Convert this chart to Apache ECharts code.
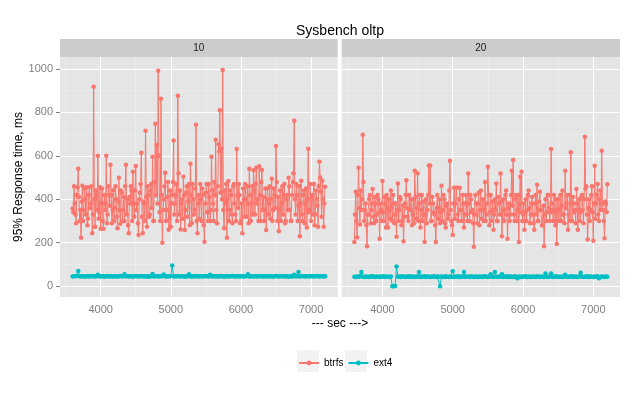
<!DOCTYPE html>
<html>
<head>
<meta charset="utf-8">
<script src="https://cdn.jsdelivr.net/npm/echarts@6/dist/echarts.min.js"></script>
<style>
	html, body { margin: 0; padding: 0; background: #fff; }
	#chart { width: 640px; height: 398px; }
</style>
</head>
<body>
<div id="chart"></div>
<script>
// btrfs is read every 10 sec, ext4 every 20 sec, both from 3600 to 7200
var tStart = 3600;
var btrfsStep = 10;
var ext4Step = 20;

var panels = ['10', '20'];
var seriesNames = ['btrfs', 'ext4'];
var xTicks = [4000, 5000, 6000, 7000];
var xMinor = [3500, 4500, 5500, 6500];
var yTicks = [0, 200, 400, 600, 800, 1000];
var yMinor = [100, 300, 500, 700, 900];

// panel "10"
var btrfs10 = [358,340,460,380,330,290,420,455,541,410,300,350,223,390,462,300,350,450,400,330,
	455,280,310,420,455,360,380,460,243,330,918,400,273,440,420,350,600,310,340,455,
	264,380,450,300,264,420,380,350,600,290,330,460,420,370,559,420,290,350,442,300,
	360,460,400,320,267,390,499,350,287,440,430,300,350,410,300,460,559,330,400,280,
	243,410,380,460,440,300,527,380,320,440,553,350,380,290,236,400,430,470,614,320,
	243,390,380,300,716,410,273,460,420,320,330,440,470,360,596,300,300,480,748,420,
	650,380,992,600,340,300,863,420,200,350,400,460,522,300,350,410,480,260,310,440,
	273,380,420,480,670,330,380,420,470,300,877,520,330,440,261,380,400,310,504,420,
	258,350,430,460,320,390,470,280,564,420,290,470,400,330,350,450,743,300,243,420,
	380,310,470,400,300,450,420,280,204,380,430,470,340,300,470,410,300,350,596,440,
	380,300,480,420,674,350,290,460,653,620,810,430,634,400,995,350,267,440,380,470,
	223,400,484,300,350,440,420,330,290,460,470,380,330,300,631,420,360,470,420,290,
	300,380,243,450,400,320,470,400,320,460,380,290,541,420,300,380,460,330,534,440,
	330,470,545,380,400,300,552,420,300,480,535,350,410,300,350,450,258,400,450,330,
	380,460,310,400,494,300,350,450,420,360,645,480,300,410,253,350,440,300,380,460,
	330,420,470,290,300,400,420,350,499,460,350,300,301,420,480,520,762,400,330,470,
	420,300,370,460,230,380,485,330,300,420,440,290,380,450,270,400,633,340,350,470,
	300,410,420,330,470,280,330,440,400,370,273,460,573,500,436,320,485,400,273,380,
	458];
var ext4_10 = [44,46,45,47,70,45,44,46,45,43,
	46,45,44,47,45,46,44,45,52,45,
	44,46,45,43,45,47,44,46,45,44,
	45,46,44,45,47,45,44,55,45,46,
	44,45,46,43,45,47,45,44,46,45,
	45,44,46,45,43,46,45,56,44,45,
	46,45,44,47,45,54,46,44,45,46,
	45,95,46,44,45,47,45,44,46,45,
	43,46,45,55,44,46,45,44,47,45,
	44,46,45,44,45,47,45,44,53,45,
	46,45,44,46,45,44,47,45,43,46,
	45,44,46,45,47,45,44,46,45,44,
	45,46,44,45,47,55,44,46,45,44,
	46,45,44,47,45,46,44,45,46,45,
	44,46,45,43,45,47,45,44,46,45,
	45,44,46,45,43,46,45,44,52,45,
	46,65,44,47,45,46,44,45,46,45,
	45,46,44,45,47,45,44,46,45,44,
	45];

// panel "20"
var btrfs20 = [203,330,435,300,224,420,545,360,284,440,350,400,697,480,300,350,380,280,184,330,
	330,400,420,290,350,380,447,320,290,410,380,300,330,420,400,340,218,380,350,300,
	484,340,300,410,380,270,420,360,270,400,350,310,440,360,300,420,380,290,330,380,
	227,350,472,300,350,410,400,280,300,370,207,320,380,420,488,360,320,300,420,350,
	350,400,280,330,400,290,531,410,310,360,520,300,380,420,270,350,420,300,330,390,
	203,330,400,290,350,420,556,380,555,300,300,410,380,340,330,280,203,360,420,310,
	360,400,290,340,462,300,350,420,400,290,270,370,380,310,330,440,577,350,300,280,
	236,380,453,310,380,453,453,330,300,400,453,350,350,300,420,380,270,330,380,420,
	330,300,519,380,300,420,400,340,350,290,181,330,420,380,330,290,380,430,280,350,
	440,310,350,400,300,350,479,300,330,380,550,420,280,340,420,300,350,390,260,330,
	400,350,473,300,300,410,380,330,519,390,230,350,400,300,350,420,440,330,218,360,
	380,300,330,420,531,370,581,330,300,400,420,300,350,420,203,380,504,340,527,300,
	330,380,260,340,400,300,350,420,440,360,290,330,380,410,330,290,260,380,420,330,
	467,300,300,390,435,350,350,280,280,370,184,330,400,300,340,420,420,360,300,340,
	631,380,350,300,420,340,280,400,194,350,400,300,350,420,300,370,440,330,330,290,
	531,360,380,420,260,330,420,300,617,380,300,410,380,340,350,290,447,380,260,350,
	400,300,340,410,420,350,290,400,688,450,460,330,215,360,400,300,350,420,460,340,
	209,380,554,310,380,420,470,330,300,400,440,350,623,380,350,300,221,390,380,340,
	469];
var ext4_20 = [43,42,44,43,45,65,43,42,44,43,
	42,44,43,45,43,42,44,43,42,44,
	43,45,42,44,43,42,44,0,0,1,
	90,43,44,42,45,43,42,44,43,45,
	42,44,43,42,44,43,65,42,44,43,
	45,42,44,43,42,44,43,45,42,44,
	43,0,44,43,42,45,43,42,44,43,
	68,42,44,43,45,42,44,43,65,42,
	44,43,42,45,43,42,44,43,42,44,
	43,42,44,45,43,42,44,55,43,42,
	65,43,42,44,43,55,42,44,43,45,
	42,44,43,42,45,43,36,44,43,42,
	44,43,45,42,44,43,42,44,43,42,
	45,43,42,44,43,42,58,43,42,44,
	58,42,44,43,45,42,43,44,42,43,
	52,43,42,44,43,45,42,44,43,42,
	44,62,43,42,44,43,45,42,44,43,
	42,44,43,45,36,42,44,43,42,44,
	43];

var colors = ['#F8766D', '#00BFC4'];
var font = "'Liberation Sans', Arial, sans-serif";

function pairs(vals, step){
	var out = [];
	for (var i = 0; i < vals.length; i++) {
		out.push([tStart + i * step, vals[i]]);
	}
	return out;
}

function plain(v){
	return String(v);
}

function gridLines(idx, xs, ys, width, color){
	var d = [];
	for (var i = 0; i < xs.length; i++) d.push({xAxis: xs[i]});
	for (var j = 0; j < ys.length; j++) d.push({yAxis: ys[j]});
	return {
		type: 'line',
		xAxisIndex: idx,
		yAxisIndex: idx,
		data: [],
		silent: true,
		markLine: {
			silent: true,
			z: 1,
			animation: false,
			symbol: ['none', 'none'],
			label: {show: false},
			emphasis: {disabled: true},
			lineStyle: {color: color, width: width, type: 'solid'},
			data: d
		}
	};
}

function dataSeries(idx, name, vals, step, color){
	return {
		name: name,
		type: 'line',
		xAxisIndex: idx,
		yAxisIndex: idx,
		data: pairs(vals, step),
		symbol: 'circle',
		symbolSize: 4.5,
		showSymbol: true,
		showAllSymbol: true,
		z: 3,
		lineStyle: {color: color, width: 1},
		itemStyle: {color: color},
		emphasis: {disabled: true}
	};
}

function chart(){
	var myChart = echarts.init(document.getElementById('chart'), null, {renderer: 'canvas'});
	var xAxes = [], yAxes = [];
	for (var k = 0; k < 2; k++) {
		xAxes.push({
			type: 'value',
			gridIndex: k,
			min: 3420,
			max: 7380,
			axisLine: {show: false},
			splitLine: {show: false},
			axisTick: {show: true, length: 4, customValues: xTicks, lineStyle: {color: '#7F7F7F'}},
			axisLabel: {customValues: xTicks, formatter: plain, color: '#7F7F7F', fontSize: 11, fontFamily: font, margin: 7}
		});
		yAxes.push({
			type: 'value',
			gridIndex: k,
			min: -50,
			max: 1055,
			axisLine: {show: false},
			splitLine: {show: false},
			axisTick: {show: k == 0, length: 4, customValues: yTicks, lineStyle: {color: '#7F7F7F'}},
			axisLabel: {show: k == 0, customValues: yTicks, formatter: plain, color: '#7F7F7F', fontSize: 11, fontFamily: font, margin: 7},
			name: k == 0 ? '95% Response time, ms' : '',
			nameLocation: 'middle',
			nameGap: 32,
			nameRotate: 90,
			nameTextStyle: {color: '#000', fontSize: 12, fontFamily: font}
		});
	}

	var series = [];
	series.push(gridLines(0, xMinor, yMinor, 0.5, '#F2F2F2'));
	series.push(gridLines(0, xTicks, yTicks, 1.1, '#FFFFFF'));
	series.push(gridLines(1, xMinor, yMinor, 0.5, '#F2F2F2'));
	series.push(gridLines(1, xTicks, yTicks, 1.1, '#FFFFFF'));
	series.push(dataSeries(0, seriesNames[0], btrfs10, btrfsStep, colors[0]));
	series.push(dataSeries(0, seriesNames[1], ext4_10, ext4Step, colors[1]));
	series.push(dataSeries(1, seriesNames[0], btrfs20, btrfsStep, colors[0]));
	series.push(dataSeries(1, seriesNames[1], ext4_20, ext4Step, colors[1]));

	var option = {
		animation: false,
		backgroundColor: '#FFFFFF',
		textStyle: {fontFamily: font},
		title: [{
			text: 'Sysbench oltp',
			left: 340,
			top: 24,
			textAlign: 'center',
			padding: 0,
			textStyle: {color: '#000', fontSize: 14, fontWeight: 'normal', fontFamily: font}
		}, {
			text: '--- sec --->',
			left: 340,
			top: 318,
			textAlign: 'center',
			padding: 0,
			textStyle: {color: '#000', fontSize: 12, fontWeight: 'normal', fontFamily: font}
		}],
		legend: {
			data: seriesNames,
			left: 298,
			top: 358,
			padding: 0,
			itemWidth: 20,
			itemHeight: 6,
			itemGap: 4,
			textStyle: {color: '#000', fontSize: 10, fontFamily: font}
		},
		grid: [
			{left: 60, right: 302.3, top: 57, bottom: 101, show: true, backgroundColor: '#E5E5E5', borderWidth: 0},
			{left: 341.7, right: 20, top: 57, bottom: 101, show: true, backgroundColor: '#E5E5E5', borderWidth: 0}
		],
		graphic: [
			{type: 'rect', left: 297, top: 350, z: -1, shape: {width: 22, height: 22}, style: {fill: '#F2F2F2'}},
			{type: 'rect', left: 345, top: 350, z: -1, shape: {width: 22, height: 22}, style: {fill: '#F2F2F2'}},
			{type: 'rect', left: 60, top: 39, shape: {width: 277.7, height: 18}, style: {fill: '#CCCCCC'}},
			{type: 'rect', left: 341.7, top: 39, shape: {width: 278.3, height: 18}, style: {fill: '#CCCCCC'}},
			{type: 'text', x: 198.8, y: 48.5, style: {text: panels[0], fill: '#1A1A1A', font: '10px ' + font, align: 'center', verticalAlign: 'middle'}},
			{type: 'text', x: 480.8, y: 48.5, style: {text: panels[1], fill: '#1A1A1A', font: '10px ' + font, align: 'center', verticalAlign: 'middle'}}
		],
		xAxis: xAxes,
		yAxis: yAxes,
		series: series
	};

	myChart.setOption(option);
	window.addEventListener("resize", function(){
		myChart.resize();
	});
}

chart();
</script>
</body>
</html>
